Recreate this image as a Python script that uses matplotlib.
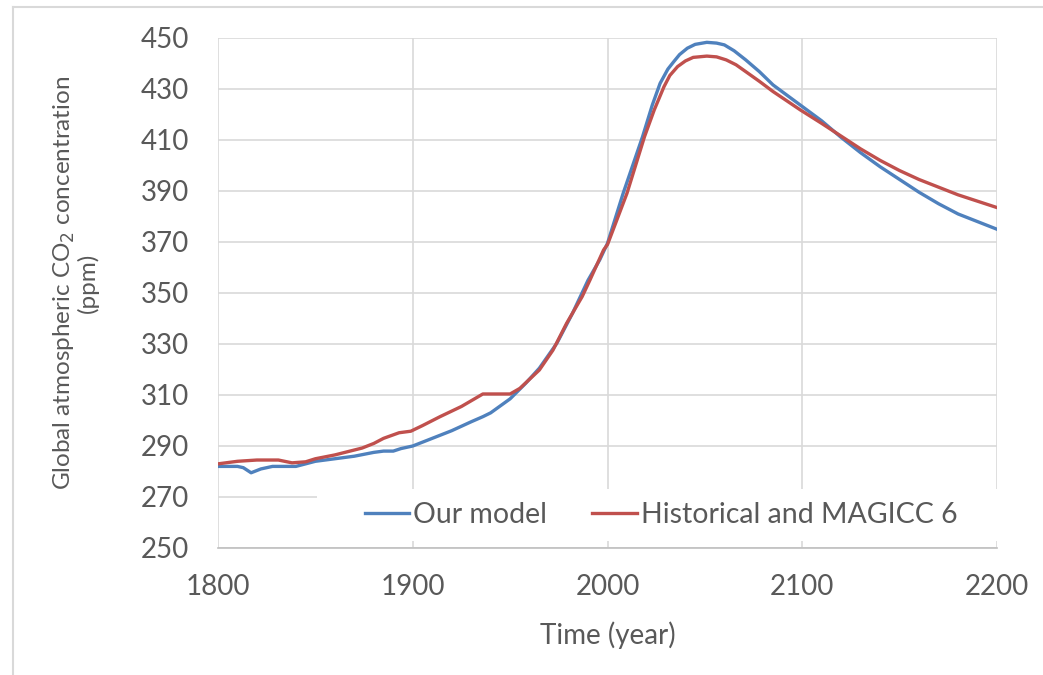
import matplotlib
matplotlib.use('Agg')
import matplotlib.pyplot as plt
from matplotlib.patches import Rectangle
from matplotlib.lines import Line2D

### Dados

years_model = [1800, 1810, 1813, 1817, 1822, 1828, 1840, 1845, 1850, 1860, 1870, 1880,
               1885, 1890, 1894, 1900, 1910, 1920, 1930, 1936, 1940, 1950, 1958, 1965,
               1974, 1982, 1990, 1996, 2000, 2008, 2018, 2023, 2027, 2031, 2034, 2037,
               2041, 2045, 2051, 2056, 2060, 2065, 2071, 2078, 2085, 2099, 2110, 2120,
               2130, 2140, 2150, 2160, 2170, 2180, 2190, 2200]
co2_model = [282, 282, 281.5, 279.5, 281, 282, 282, 283, 284, 285, 286, 287.5,
             288, 288, 289, 290, 293, 296, 299.5, 301.5, 303, 308.5, 314.6, 320.5,
             330.3, 342, 355, 363, 369.5, 389, 411.3, 423.7, 432.2, 437.8, 440.7, 443.5,
             446, 447.5, 448.3, 448, 447.3, 445, 441.4, 436.8, 431.6, 423.7, 417.5, 411,
             405, 399.5, 394.5, 389.5, 385, 381, 378, 375]

years_hist = [1800, 1810, 1820, 1831, 1838, 1845, 1850, 1860, 1874, 1880, 1885, 1893,
              1899, 1905, 1914, 1925, 1936, 1950, 1955, 1965, 1972, 1979, 1987, 1991,
              1998, 2000, 2010, 2019, 2024, 2029, 2032, 2036, 2040, 2044, 2051, 2056,
              2061, 2066, 2071, 2078, 2085, 2099, 2110, 2120, 2130, 2140, 2150, 2160,
              2170, 2180, 2190, 2200]
co2_hist = [283, 284, 284.5, 284.5, 283.4, 283.8, 285, 286.5, 289.2, 291, 293, 295.2,
            295.8, 298, 301.5, 305.5, 310.4, 310.4, 312.6, 319.8, 327.6, 338.1, 348.6, 355.1,
            366.9, 369, 389.1, 411.3, 421.8, 430.9, 435.3, 438.8, 441, 442.4, 442.9, 442.6,
            441.4, 439.5, 436.8, 433, 429, 421.8, 416.5, 411.5, 406.5, 402, 398, 394.5,
            391.5, 388.5, 386, 383.5]

x_ticks = [1800, 1900, 2000, 2100, 2200]
y_ticks = [250, 270, 290, 310, 330, 350, 370, 390, 410, 430, 450]

BLUE = '#4F81BD'
RED = '#C0504D'
TEXT = '#595959'
GRID = '#D9D9D9'

plt.rcParams['font.family'] = ['Lato', 'DejaVu Sans']

fig = plt.figure(figsize=(10.43, 6.75), dpi=100)
ax = fig.add_axes([218 / 1043, 1 - 548 / 675, (997 - 218) / 1043, (548 - 38) / 675])

ax.plot(years_model, co2_model, color=BLUE, lw=2.4, zorder=3)
ax.plot(years_hist, co2_hist, color=RED, lw=2.4, zorder=3)

ax.set_xlim(1800, 2200)
ax.set_ylim(250, 450)
ax.set_xticks(x_ticks)
ax.set_yticks(y_ticks)
ax.grid(True, color=GRID, lw=1.2, zorder=0)
ax.tick_params(length=0, labelsize=20, labelcolor=TEXT)
ax.tick_params(axis='x', pad=19)
ax.tick_params(axis='y', pad=21)

for side in ['top', 'right', 'left']:
    ax.spines[side].set_visible(False)
ax.spines['bottom'].set_color('#BFBFBF')
ax.spines['bottom'].set_linewidth(1.2)

ax.set_xlabel('Time (year)', fontsize=20, color=TEXT)
ax.xaxis.set_label_coords(0.5, -0.143)
ax.set_ylabel('Global atmospheric CO$_2$ concentration\n(ppm)', fontsize=17.5,
              color=TEXT, linespacing=1.0)
ax.yaxis.set_label_coords(-0.153, 0.52)

# fundo branco da legenda
ax.add_patch(Rectangle((0.127, 0.014), 0.873, 0.102, transform=ax.transAxes,
                       facecolor='white', edgecolor='none', zorder=2))
handles = [Line2D([], [], color=BLUE, lw=2.4), Line2D([], [], color=RED, lw=2.4)]
leg = ax.legend(handles, ['Our model', 'Historical and MAGICC 6'], ncol=2,
                loc='center', bbox_to_anchor=(0.569, 0.065), frameon=False,
                fontsize=20.5, handlelength=1.55, handletextpad=0.15, columnspacing=1.58)
for t in leg.get_texts():
    t.set_color(TEXT)

# moldura externa
fig.add_artist(Line2D([13 / 1043, 1], [1 - 7 / 675, 1 - 7 / 675], color='#D9D9D9', lw=1.5))
fig.add_artist(Line2D([13 / 1043, 13 / 1043], [0, 1 - 7 / 675], color='#D9D9D9', lw=1.5))

fig.savefig('out.png', dpi=100)
